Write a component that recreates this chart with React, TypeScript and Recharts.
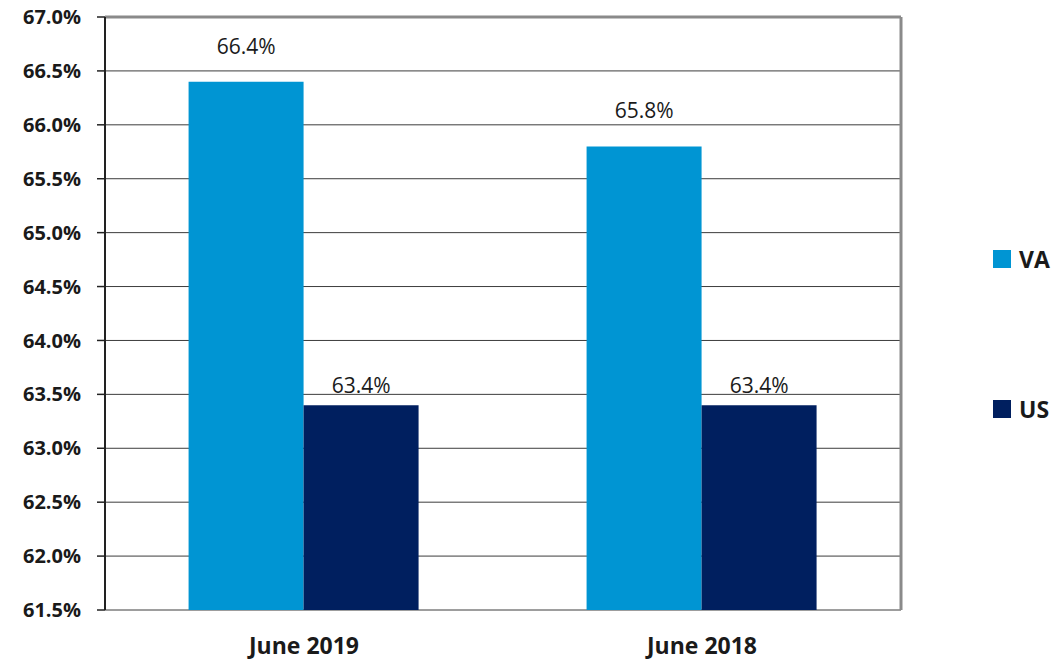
import React from 'react';
import {
  BarChart, Bar, XAxis, YAxis, CartesianGrid, LabelList, ReferenceLine
} from 'recharts';

const categories = ['June 2019', 'June 2018'];
const vaValues = [66.4, 65.8];
const usValues = [63.4, 63.4];
const yTicks = [61.5, 62.0, 62.5, 63.0, 63.5, 64.0, 64.5, 65.0, 65.5, 66.0, 66.5, 67.0];
const boundaryTicks = [0, 1, 2];
const seriesNames = ['VA', 'US'];
const seriesColors = ['#0095D3', '#001F5F'];

const data = categories.map((name, i) => ({
  name,
  idx: i + 0.5,
  VA: vaValues[i],
  US: usValues[i],
}));

const FONT = '"Open Sans", Lato, sans-serif';

const CategoryTick = (props: any) => {
  const { x, y, payload } = props;
  return (
    <text x={x} y={y + 36} textAnchor="middle" fontFamily={FONT} fontWeight={700} fontSize={23} fill="#1a1a1a">
      {payload.value}
    </text>
  );
};

export default function App() {
  return (
    <div style={{ position: 'absolute', left: 0, top: 0, width: 1060, height: 664, background: '#fff' }}>
      <BarChart
        width={1060}
        height={664}
        data={data}
        margin={{ top: 17, right: 159, left: 0, bottom: 0 }}
        barCategoryGap="21%"
        barGap={0}
      >
        <CartesianGrid vertical={false} stroke="#3c3c3c" strokeWidth={1} />
        <XAxis
          xAxisId="bounds"
          type="number"
          dataKey="idx"
          domain={[0, 2]}
          ticks={boundaryTicks}
          tickFormatter={() => ''}
          tickSize={9}
          tickLine={{ stroke: '#222', strokeWidth: 1.5 }}
          axisLine={{ stroke: '#222', strokeWidth: 2 }}
          height={0}
        />
        <XAxis
          dataKey="name"
          tick={<CategoryTick />}
          tickLine={false}
          axisLine={false}
          height={54}
        />
        <YAxis
          domain={[61.5, 67]}
          ticks={yTicks}
          tickFormatter={(v: number) => v.toFixed(1) + '%'}
          width={105}
          tickSize={8}
          tickMargin={16}
          tickLine={{ stroke: '#222', strokeWidth: 1.5 }}
          axisLine={{ stroke: '#222', strokeWidth: 2 }}
          tick={{ fontFamily: FONT, fontWeight: 700, fontSize: 20, fill: '#1a1a1a' }}
          interval={0}
        />
        <ReferenceLine y={67} stroke="#8a8a8a" strokeWidth={3} />
        <ReferenceLine x={2} xAxisId="bounds" stroke="#8a8a8a" strokeWidth={3} />
        <Bar dataKey="VA" fill={seriesColors[0]} isAnimationActive={false}>
          <LabelList dataKey="VA" position="top" offset={28} formatter={(v: number) => v.toFixed(1) + '%'}
            style={{ fontFamily: FONT, fontSize: 21, fill: '#1a1a1a' }} />
        </Bar>
        <Bar dataKey="US" fill={seriesColors[1]} isAnimationActive={false}>
          <LabelList dataKey="US" position="top" offset={12} formatter={(v: number) => v.toFixed(1) + '%'}
            style={{ fontFamily: FONT, fontSize: 21, fill: '#1a1a1a' }} />
        </Bar>
      </BarChart>
      <div style={{ position: 'absolute', left: 993, top: 247, fontFamily: FONT }}>
        {seriesNames.map((n, i) => (
          <div key={n} style={{ position: 'absolute', left: 0, top: i * 150, display: 'flex', alignItems: 'center', height: 24 }}>
            <span style={{ display: 'inline-block', width: 18, height: 18, background: seriesColors[i], marginRight: 8 }} />
            <span style={{ fontSize: 23, fontWeight: 700, color: '#1a1a1a', lineHeight: '24px' }}>{n}</span>
          </div>
        ))}
      </div>
    </div>
  );
}
